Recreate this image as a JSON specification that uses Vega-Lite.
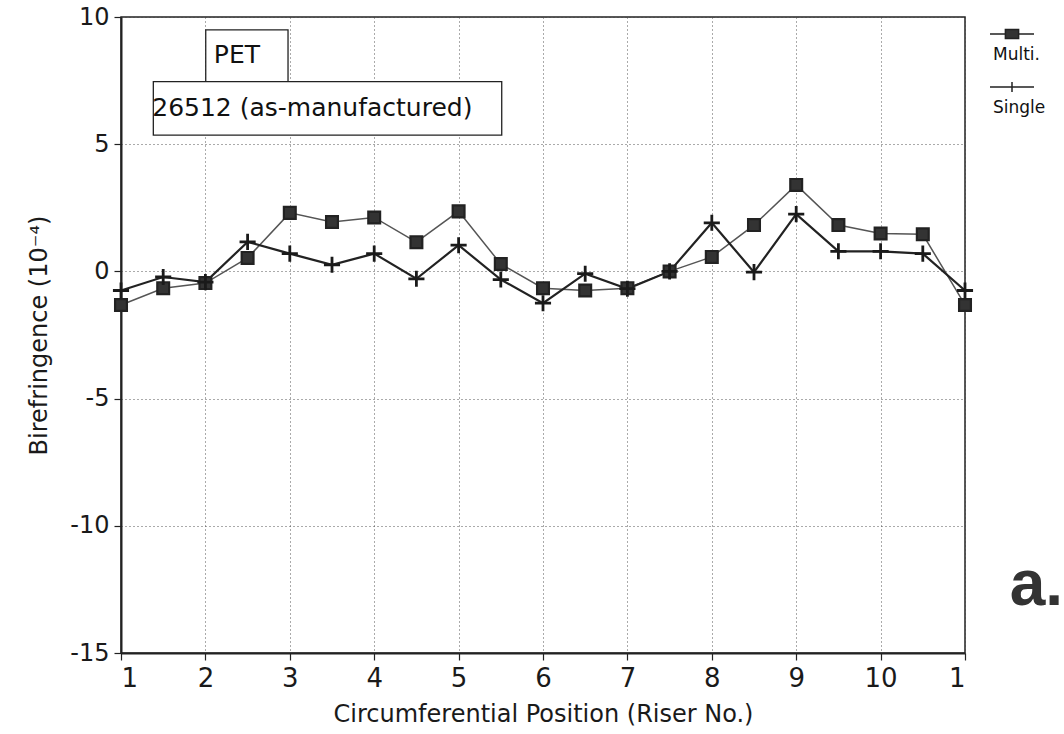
{
  "$schema": "https://vega.github.io/schema/vega-lite/v6.json",
  "width": 844,
  "height": 636,
  "autosize": "none",
  "padding": {"left": 121, "top": 17, "right": 99, "bottom": 81},
  "background": "white",
  "config": {
    "font": "DejaVu Sans",
    "view": {"stroke": "#222", "strokeWidth": 1.5},
    "axis": {
      "domainColor": "#222",
      "domainWidth": 2,
      "tickColor": "#222",
      "tickSize": 7,
      "tickWidth": 1.2,
      "labelColor": "#1a1a1a",
      "labelFont": "DejaVu Sans",
      "labelFontSize": 24,
      "titleFont": "DejaVu Sans",
      "titleFontSize": 24,
      "titleFontWeight": "normal",
      "titleColor": "#1a1a1a",
      "gridColor": "#444",
      "gridDash": [1, 3],
      "gridWidth": 1,
      "gridOpacity": 0.9
    }
  },
  "datasets": {
    "birefringence": [
      {"pos": 1, "series": "Multi.", "value": -1.32},
      {"pos": 1.5, "series": "Multi.", "value": -0.66},
      {"pos": 2, "series": "Multi.", "value": -0.46},
      {"pos": 2.5, "series": "Multi.", "value": 0.53},
      {"pos": 3, "series": "Multi.", "value": 2.3},
      {"pos": 3.5, "series": "Multi.", "value": 1.94},
      {"pos": 4, "series": "Multi.", "value": 2.12},
      {"pos": 4.5, "series": "Multi.", "value": 1.15},
      {"pos": 5, "series": "Multi.", "value": 2.36},
      {"pos": 5.5, "series": "Multi.", "value": 0.29},
      {"pos": 6, "series": "Multi.", "value": -0.66},
      {"pos": 6.5, "series": "Multi.", "value": -0.75},
      {"pos": 7, "series": "Multi.", "value": -0.66},
      {"pos": 7.5, "series": "Multi.", "value": 0},
      {"pos": 8, "series": "Multi.", "value": 0.57},
      {"pos": 8.5, "series": "Multi.", "value": 1.82},
      {"pos": 9, "series": "Multi.", "value": 3.4},
      {"pos": 9.5, "series": "Multi.", "value": 1.82},
      {"pos": 10, "series": "Multi.", "value": 1.49},
      {"pos": 10.5, "series": "Multi.", "value": 1.46},
      {"pos": 11, "series": "Multi.", "value": -1.32},
      {"pos": 1, "series": "Single", "value": -0.75},
      {"pos": 1.5, "series": "Single", "value": -0.22},
      {"pos": 2, "series": "Single", "value": -0.42},
      {"pos": 2.5, "series": "Single", "value": 1.16},
      {"pos": 3, "series": "Single", "value": 0.7},
      {"pos": 3.5, "series": "Single", "value": 0.26},
      {"pos": 4, "series": "Single", "value": 0.7},
      {"pos": 4.5, "series": "Single", "value": -0.29},
      {"pos": 5, "series": "Single", "value": 1.03},
      {"pos": 5.5, "series": "Single", "value": -0.32},
      {"pos": 6, "series": "Single", "value": -1.25},
      {"pos": 6.5, "series": "Single", "value": -0.09},
      {"pos": 7, "series": "Single", "value": -0.68},
      {"pos": 7.5, "series": "Single", "value": 0},
      {"pos": 8, "series": "Single", "value": 1.91},
      {"pos": 8.5, "series": "Single", "value": -0.03},
      {"pos": 9, "series": "Single", "value": 2.25},
      {"pos": 9.5, "series": "Single", "value": 0.79},
      {"pos": 10, "series": "Single", "value": 0.79},
      {"pos": 10.5, "series": "Single", "value": 0.7},
      {"pos": 11, "series": "Single", "value": -0.75}
    ],
    "notes": [
      {"label": "PET", "x0": 2.004, "x1": 2.979, "y0": 9.49, "y1": 7.46, "tx": 2.1, "ty": 8.5},
      {"label": "26512 (as-manufactured)", "x0": 1.383, "x1": 5.511, "y0": 7.46, "y1": 5.36, "tx": 1.37, "ty": 6.42}
    ],
    "tag": [
      {"label": "a.", "tx": 11.53, "ty": -13.11}
    ]
  },
  "layer": [
    {
      "data": {"name": "notes"},
      "mark": {"type": "rect", "fill": "white", "stroke": "#222", "strokeWidth": 1.3},
      "encoding": {
        "x": {"field": "x0", "type": "quantitative", "title": "Circumferential Position (Riser No.)"},
        "x2": {"field": "x1"},
        "y": {"field": "y0", "type": "quantitative", "title": "Birefringence (10⁻⁴)"},
        "y2": {"field": "y1"}
      }
    },
    {
      "data": {"name": "notes"},
      "mark": {"type": "text", "align": "left", "baseline": "middle", "fontSize": 25, "color": "#111", "font": "DejaVu Sans"},
      "encoding": {
        "x": {"field": "tx", "type": "quantitative", "title": "Circumferential Position (Riser No.)"},
        "y": {"field": "ty", "type": "quantitative", "title": "Birefringence (10⁻⁴)"},
        "text": {"field": "label"}
      }
    },
    {
      "data": {"name": "birefringence"},
      "transform": [{"filter": "datum.series === 'Multi.'"}],
      "mark": {"type": "line", "color": "#555", "strokeWidth": 1.5},
      "encoding": {
        "x": {
          "field": "pos", "type": "quantitative",
          "title": "Circumferential Position (Riser No.)",
          "scale": {"domain": [1, 11], "nice": false, "zero": false},
          "axis": {"values": [1, 2, 3, 4, 5, 6, 7, 8, 9, 10, 11], "format": "d", "labelExpr": "datum.value == 11 ? '1' : datum.label", "labelPadding": 5, "titlePadding": 11, "grid": true, "labelFontSize": 26}
        },
        "y": {
          "field": "value", "type": "quantitative",
          "title": "Birefringence (10⁻⁴)",
          "scale": {"domain": [-15, 10], "nice": false, "zero": false},
          "axis": {"values": [-15, -10, -5, 0, 5, 10], "format": "d", "labelExpr": "replace(datum.label, '−', '-')", "labelPadding": 5, "titlePadding": 18, "grid": true}
        }
      }
    },
    {
      "data": {"name": "birefringence"},
      "transform": [{"filter": "datum.series === 'Single'"}],
      "mark": {"type": "line", "color": "#222", "strokeWidth": 2.2},
      "encoding": {
        "x": {"field": "pos", "type": "quantitative", "title": "Circumferential Position (Riser No.)"},
        "y": {"field": "value", "type": "quantitative", "title": "Birefringence (10⁻⁴)"}
      }
    },
    {
      "data": {"name": "birefringence"},
      "transform": [{"filter": "datum.series === 'Multi.'"}],
      "mark": {"type": "point", "shape": "square", "filled": true, "opacity": 1, "fill": "#333", "stroke": "#222", "strokeWidth": 2.2, "size": 140},
      "encoding": {
        "x": {"field": "pos", "type": "quantitative", "title": "Circumferential Position (Riser No.)"},
        "y": {"field": "value", "type": "quantitative", "title": "Birefringence (10⁻⁴)"}
      }
    },
    {
      "data": {"name": "birefringence"},
      "transform": [{"filter": "datum.series === 'Single'"}],
      "mark": {"type": "point", "shape": "M-1,0H1M0,-1V1", "filled": false, "opacity": 1, "stroke": "#1a1a1a", "strokeWidth": 2.8, "size": 260},
      "encoding": {
        "x": {"field": "pos", "type": "quantitative", "title": "Circumferential Position (Riser No.)"},
        "y": {"field": "value", "type": "quantitative", "title": "Birefringence (10⁻⁴)"}
      }
    },
    {
      "data": {"name": "birefringence"},
      "transform": [{"filter": "false"}],
      "mark": {"type": "point", "filled": true, "opacity": 1, "stroke": "#222", "strokeWidth": 1.5},
      "encoding": {
        "x": {"field": "pos", "type": "quantitative", "title": "Circumferential Position (Riser No.)"},
        "y": {"field": "value", "type": "quantitative", "title": "Birefringence (10⁻⁴)"},
        "shape": {
          "field": "series", "type": "nominal",
          "scale": {"domain": ["Multi.", "Single"], "range": ["M-1,0H-0.3M0.3,0H1M-0.3,-0.2H0.3V0.2H-0.3Z", "M-1,0H1M0,-0.23V0.23"]},
          "legend": null
        },
        "color": {
          "field": "series", "type": "nominal",
          "scale": {"domain": ["Multi.", "Single"], "range": ["#333", "#222"]},
          "legend": {
            "title": null,
            "orient": "none",
            "legendX": 868,
            "legendY": -6,
            "padding": 0,
            "symbolSize": 1936,
            "symbolOpacity": 1,
            "symbolStrokeColor": "#222",
            "symbolStrokeWidth": 1.5,
            "labelFontSize": 17,
            "labelColor": "#111",
            "labelFont": "DejaVu Sans",
            "labelOffset": 0,
            "rowPadding": 1,
            "encoding": {
              "labels": {"dx": {"value": -42}, "dy": {"value": 21}}
            }
          }
        }
      }
    },
    {
      "data": {"name": "tag"},
      "mark": {"type": "text", "align": "left", "baseline": "alphabetic", "fontSize": 64, "fontWeight": "bold", "color": "#333", "font": "Liberation Sans"},
      "encoding": {
        "x": {"field": "tx", "type": "quantitative", "title": "Circumferential Position (Riser No.)"},
        "y": {"field": "ty", "type": "quantitative", "title": "Birefringence (10⁻⁴)"},
        "text": {"field": "label"}
      }
    }
  ]
}
